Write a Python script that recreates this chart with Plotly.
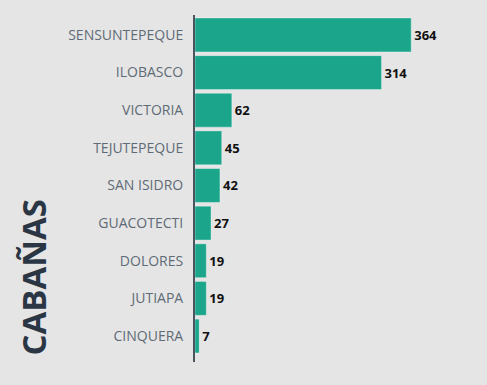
import plotly.graph_objects as go

municipios = ["SENSUNTEPEQUE", "ILOBASCO", "VICTORIA", "TEJUTEPEQUE", "SAN ISIDRO",
              "GUACOTECTI", "DOLORES", "JUTIAPA", "CINQUERA"]
valores = [364, 314, 62, 45, 42, 27, 19, 19, 7]
titulo = "CABAÑAS"

fig = go.Figure(go.Bar(
    x=valores, y=municipios, orientation="h",
    marker=dict(color="#1ba58b", line=dict(color="rgba(255,255,255,0.35)", width=1)),
    text=valores, textposition="outside", cliponaxis=False,
    textfont=dict(family="Open Sans, sans-serif", size=13, color="#111111", weight="bold"),
    width=0.9,
))

fig.update_layout(
    width=487, height=385,
    margin=dict(l=195, r=17, t=15, b=23),
    paper_bgcolor="#e5e5e5", plot_bgcolor="#e5e5e5",
    showlegend=False,
    xaxis=dict(range=[0, 463], visible=False, showgrid=False),
    yaxis=dict(
        categoryorder="array", categoryarray=municipios,
        range=[8.69, -0.53],
        showline=True, linecolor="#4a5560", linewidth=2,
        showgrid=False, ticks="", ticklabelstandoff=7,
        tickfont=dict(family="Open Sans, sans-serif", size=14, color="#5f6b76"),
    ),
    annotations=[dict(
        text=titulo, textangle=-90, xref="paper", yref="paper",
        x=-195/275, xanchor="left", xshift=8, y=(385-23-277)/347, yanchor="middle",
        showarrow=False,
        font=dict(family="Open Sans, sans-serif", size=33, color="#2b3645", weight="bold"),
    )],
)

fig.write_html("out.html", config={"displayModeBar": False},
               post_script="document.body.style.margin='0';document.body.style.background='#e5e5e5';")
